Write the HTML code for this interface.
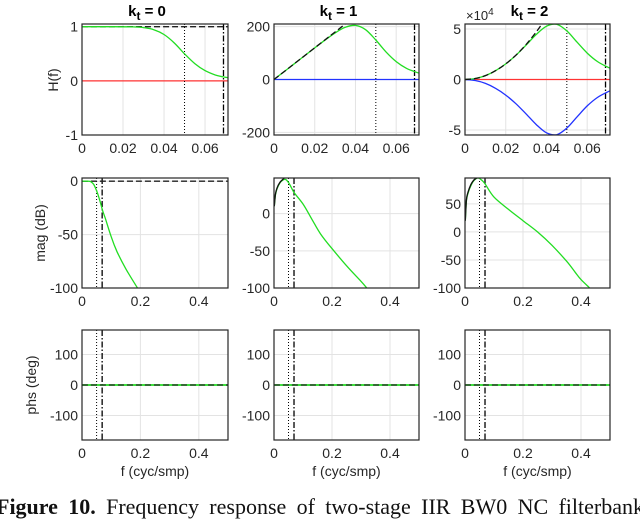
<!DOCTYPE html>
<html><head><meta charset="utf-8">
<style>
html,body{margin:0;padding:0;background:#fff;width:640px;height:514px;overflow:hidden;}
svg{position:absolute;left:0;top:0;}
text{font-family:"Liberation Sans",Arial,sans-serif;}
#caption{position:absolute;left:-4px;top:494px;width:648px;font-family:"Liberation Serif",serif;font-size:22px;white-space:nowrap;text-align:justify;text-align-last:justify;color:#111;}
</style></head>
<body>
<svg id="fig" width="640" height="514"></svg>
<div id="caption"><b>Figure 10.</b> Frequency response of two-stage IIR BW0 NC filterbank</div>
<script>
// ---- data ----
const fH = [0,0.005,0.01,0.015,0.02,0.025,0.03,0.035,0.04,0.045,0.05,0.055,0.06,0.065,0.07,0.0712];
const h0Green = [1,1,1,1,0.999,0.996,0.983,0.945,0.856,0.70,0.5,0.318,0.189,0.109,0.065,0.058];
const h1Green = [0,29.9,59.8,89.6,119.4,148.8,176.3,197.7,204.6,188.3,149.4,104.5,67.8,42.3,27.2,24.7];
const h2Green = [0,0.096,0.386,0.868,1.541,2.400,3.413,4.468,5.278,5.466,4.82,3.71,2.62,1.78,1.23,1.13];
const h2Blue  = [0,-0.096,-0.386,-0.868,-1.541,-2.400,-3.413,-4.468,-5.278,-5.466,-4.82,-3.71,-2.62,-1.78,-1.23,-1.13];
const fIdeal1 = [0,0.035]; const h1Ideal = [0,210];
const fIdeal2 = [0,0.005,0.01,0.015,0.02,0.025,0.03,0.035,0.038]; const h2Ideal = [0,0.096,0.386,0.868,1.543,2.41,3.47,4.72,5.57];
const fM0 = [0,0.02,0.03,0.04,0.05,0.06,0.07,0.08,0.1,0.12,0.15,0.19];
const m0Green = [0,0,-0.5,-3,-9,-17,-27,-35,-52,-66,-82,-100];
const fM1 = [0.001,0.005,0.01,0.02,0.03,0.04,0.05,0.06,0.07,0.1,0.13,0.16,0.2,0.25,0.3,0.32];
const m1Green = [10,25,33,41,45,46,42,35,28,13,-7,-27,-47,-70,-91,-100];
const fM1b = [0.001,0.005,0.01,0.02,0.03,0.036]; const m1Black = [10,26,34,42,46,48];
const fM2 = [0.001,0.005,0.01,0.02,0.03,0.045,0.06,0.07,0.1,0.15,0.2,0.25,0.3,0.35,0.38,0.4,0.43];
const m2Green = [20,55,68,82,91,96,91,85,62,40,20,0,-24,-52,-72,-85,-100];
const fM2b = [0.001,0.005,0.01,0.02,0.03,0.04]; const m2Black = [20,57,70,84,92,96];
const fcDot = 0.05, fcDash = 0.069;
const titles = ["k","k","k"]; const tIdx = ["0","1","2"];
const yT1 = [[-1,0,1],[-200,0,200],[-5,0,5]];
const yT2 = [[-100,-50,0],[-100,-50,0],[-100,-50,0,50]];
const yT3 = [-100,0,100];
const xT1 = [0,0.02,0.04,0.06]; const xT2 = [0,0.2,0.4];

const NS="http://www.w3.org/2000/svg";
const svg=document.getElementById('fig');
function el(tag,attrs,parent,txt){const e=document.createElementNS(NS,tag);for(const k in attrs)e.setAttribute(k,attrs[k]);if(txt!==undefined)e.textContent=txt;(parent||svg).appendChild(e);return e;}
const cols=[[82,228],[274,419],[465,610]];
const rows=[[24,135],[178,288],[330,440]];

function axes(ci,ri,xlim,ylim,xt,yt,name){
  const [x0,x1]=cols[ci],[y0,y1]=rows[ri];
  const g=el('g',{});  
  const sx=v=>x0+(v-xlim[0])/(xlim[1]-xlim[0])*(x1-x0);
  const sy=v=>y1-(v-ylim[0])/(ylim[1]-ylim[0])*(y1-y0);
  const clip='c'+ci+ri;
  const cp=el('clipPath',{id:clip},g); el('rect',{x:x0,y:y0,width:x1-x0,height:y1-y0},cp);
  xt.forEach(v=>{el('line',{x1:sx(v),x2:sx(v),y1:y0,y2:y1,stroke:'#e3e3e3','stroke-width':1},g);
    const t=el('text',{x:sx(v),y:y1+18,'text-anchor':'middle','font-size':14,fill:'#262626'},g,String(v));
    });
  yt.forEach(v=>{el('line',{x1:x0,x2:x1,y1:sy(v),y2:sy(v),stroke:'#e3e3e3','stroke-width':1},g);
    const t=el('text',{x:x0-4,y:sy(v)+5,'text-anchor':'end','font-size':14,fill:'#262626'},g,String(v));
    });
  const plot=el('g',{'clip-path':'url(#'+clip+')'},g);
  return {sx,sy,plot,g,x0,x1,y0,y1};
}
function line(ax,xs,ys,color,w,dash,name){
  const P=xs.map((x,i)=>[ax.sx(x),ax.sy(ys[i])]);
  let d='M'+P[0][0].toFixed(1)+' '+P[0][1].toFixed(1);
  for(let i=0;i<P.length-1;i++){
    const p0=P[i-1]||P[i],p1=P[i],p2=P[i+1],p3=P[i+2]||P[i+1];
    const c1=[p1[0]+(p2[0]-p0[0])/6,p1[1]+(p2[1]-p0[1])/6];
    const c2=[p2[0]-(p3[0]-p1[0])/6,p2[1]-(p3[1]-p1[1])/6];
    d+=' C'+c1[0].toFixed(1)+' '+c1[1].toFixed(1)+' '+c2[0].toFixed(1)+' '+c2[1].toFixed(1)+' '+p2[0].toFixed(1)+' '+p2[1].toFixed(1);
  }
  const p=el('path',{d:d,fill:'none',stroke:color,'stroke-width':w,'stroke-dasharray':dash||'none'},ax.plot);
  return p;
}
function vlines(ax){
  const a=el('line',{x1:ax.sx(fcDot),x2:ax.sx(fcDot),y1:ax.y0,y2:ax.y1,stroke:'#000','stroke-width':1,'stroke-dasharray':'1 2'},ax.plot);
  
  const b=el('line',{x1:ax.sx(fcDash),x2:ax.sx(fcDash),y1:ax.y0,y2:ax.y1,stroke:'#000','stroke-width':1.3,'stroke-dasharray':'6 2 1.5 2'},ax.plot);
  
}
function box(ax){const r=el('rect',{x:ax.x0,y:ax.y0,width:ax.x1-ax.x0,height:ax.y1-ax.y0,fill:'none',stroke:'#262626','stroke-width':1.2},ax.g);
  }

const XL=[0,0.0712];
let a=axes(0,0,XL,[-1,1.05],xT1,yT1[0],'h-plot-kt0');
line(a,[0,0.0712],[0,0],'#ff3333',1.2,null,'h-imag-red');
vlines(a);
line(a,[0,0.0712],[1,1],'#222',1.3,'6 3','h-ideal-dashed');
line(a,fH,h0Green,'#22dd22',1.3,null,'h-real-green');
box(a);
a=axes(1,0,XL,[-210,210],xT1,yT1[1],'h-plot-kt1');
line(a,[0,0.0712],[0,0],'#2233ff',1.2,null,'h-imag-blue');
vlines(a);
line(a,fH,h1Green,'#22dd22',1.3,null,'h-real-green');
line(a,fIdeal1,h1Ideal,'#111',1.3,'6 3','h-ideal-dashed');
box(a);
a=axes(2,0,XL,[-5.5,5.5],xT1,yT1[2],'h-plot-kt2');
line(a,[0,0.0712],[0,0],'#ff3333',1.2,null,'h-real-red');
vlines(a);
line(a,fH,h2Blue,'#2233ff',1.3,null,'h-imag-blue');
line(a,fH,h2Green,'#22dd22',1.3,null,'h-green');
line(a,fIdeal2,h2Ideal,'#111',1.3,'6 3','h-ideal-dashed');
box(a);
const XL2=[0,0.5];
a=axes(0,1,XL2,[-100,3],xT2,yT2[0],'mag-plot-kt0');
vlines(a);
line(a,[0,0.5],[0,0],'#222',1.3,'6 3','mag-ideal-dashed');
line(a,fM0,m0Green,'#22dd22',1.3,null,'mag-green');
box(a);
a=axes(1,1,XL2,[-100,48],xT2,yT2[1],'mag-plot-kt1');
vlines(a);
line(a,fM1,m1Green,'#22dd22',1.3,null,'mag-green');
line(a,fM1b,m1Black,'#111',1.3,null,'mag-ideal');
box(a);
a=axes(2,1,XL2,[-100,96],xT2,yT2[2],'mag-plot-kt2');
vlines(a);
line(a,fM2,m2Green,'#22dd22',1.3,null,'mag-green');
line(a,fM2b,m2Black,'#111',1.3,null,'mag-ideal');
box(a);
for(let c=0;c<3;c++){
  a=axes(c,2,XL2,[-180,180],xT2,yT3,'phase-plot-kt'+c);
  vlines(a);
  line(a,[0,0.5],[0,0],'#22dd22',1.8,null,'phase-green');
  line(a,[0,0.5],[0,0],'#222',1.3,'6 3','phase-ideal-dashed');
  box(a);
}
cols.forEach((c,i)=>{
  const t=el('text',{x:(c[0]+c[1])/2-8,y:16,'text-anchor':'middle','font-size':15,'font-weight':'bold',fill:'#000'});
  
  el('tspan',{},t,titles[i]);el('tspan',{dy:4,'font-size':12},t,'t');el('tspan',{dy:-4},t,' = '+tIdx[i]);
  const x=el('text',{x:(c[0]+c[1])/2,y:476,'text-anchor':'middle','font-size':14,fill:'#262626'},svg,'f (cyc/smp)');
  
});
const ex=el('text',{x:466,y:20,'font-size':13,fill:'#262626'});

el('tspan',{},ex,'×10');el('tspan',{dy:-5,'font-size':10},ex,'4');
[['H(f)',58,80],['mag (dB)',45,233],['phs (deg)',36,385]].forEach(([s,x,y])=>{
  const t=el('text',{x:x,y:y,'text-anchor':'middle','font-size':14,fill:'#262626',transform:'rotate(-90 '+x+' '+y+')'},svg,s);
  
});
</script>
</body></html>
